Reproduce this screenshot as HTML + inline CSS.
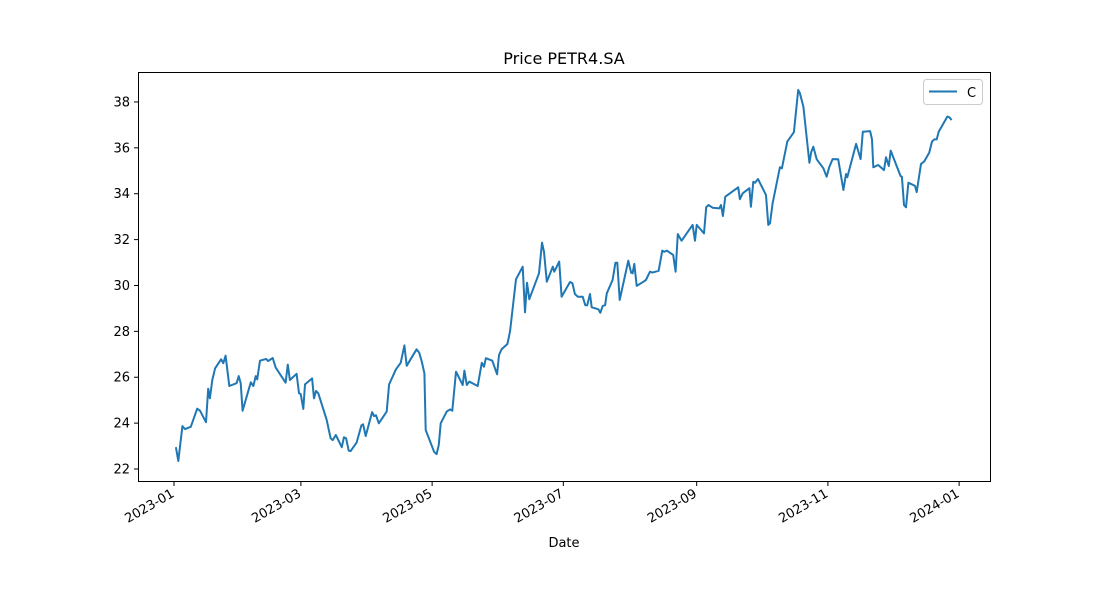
<!DOCTYPE html>
<html><head><meta charset="utf-8"><style>
body{margin:0;background:#fff;}
svg{display:block;font-family:"DejaVu Sans","Liberation Sans",sans-serif;}
</style></head><body>
<svg id="chart" width="1100" height="600" viewBox="0 0 1100 600">
<rect x="0" y="0" width="1100" height="600" fill="#fff"/>
<text x="564" y="64" font-size="16" text-anchor="middle">Price PETR4.SA</text>
<text x="564" y="547" font-size="13" text-anchor="middle">Date</text>
<g id="yt"></g><g id="xt"></g>
<path id="line" fill="none" stroke="#1f77b4" stroke-width="2" stroke-linejoin="round"/>
<rect x="138.5" y="72.5" width="852" height="409" fill="none" stroke="#000" stroke-width="1"/>
<g>
<rect x="923.5" y="79.5" width="59" height="25" rx="3" fill="#fff" stroke="#ccc"/>
<line x1="929" y1="91.5" x2="957" y2="91.5" stroke="#1f77b4" stroke-width="2"/>
<text x="967" y="97" font-size="13">C</text>
</g>
</svg>
<script>
const days=[0.9,2.0,3.9,5.1,7.8,10.8,12.1,14.9,15.9,16.7,17.8,19.1,21.9,22.9,24.0,25.7,29.1,30.1,31.0,31.9,35.7,36.9,38.0,38.7,40.0,42.8,43.8,45.9,47.3,51.9,52.9,53.9,57.0,58.1,58.9,60.1,60.9,64.2,65.1,66.0,67.1,71.0,72.8,73.8,75.2,78.0,79.0,80.0,81.2,82.1,84.9,87.1,87.9,89.1,92.1,93.0,93.9,95.2,98.9,100.0,103.2,105.4,107.1,108.2,112.8,114.0,115.2,116.4,117.0,120.9,122.1,123.1,124.0,126.8,128.3,129.4,131.1,134.2,135.0,136.1,137.3,141.2,143.1,144.1,145.0,148.0,150.2,151.1,152.3,155.0,156.2,159.0,162.1,163.2,164.1,165.2,169.7,171.1,172.0,173.3,176.1,176.8,179.1,180.2,184.1,185.2,186.4,187.7,190.0,191.2,192.1,193.4,194.2,197.3,198.2,199.3,200.4,201.2,203.9,205.2,206.1,207.2,211.2,212.5,213.2,214.0,215.1,218.2,219.4,221.3,222.4,225.3,227.0,227.9,229.1,232.1,233.2,234.2,236.0,241.1,242.2,243.0,246.4,247.4,248.5,250.4,253.5,254.3,255.2,256.3,262.3,263.1,264.4,267.5,268.2,269.3,270.1,271.5,275.2,276.3,277.1,278.3,281.7,282.6,285.1,288.2,290.2,291.0,292.6,295.4,296.3,297.2,298.8,301.9,303.4,304.6,306.2,308.8,311.2,312.4,313.0,317.1,319.2,320.2,323.6,324.5,325.1,327.4,330.1,331.0,332.3,333.2,337.8,338.4,339.4,340.3,341.4,344.5,345.3,347.3,348.7,351.1,352.4,353.4,354.6,355.5,359.5,360.5,361.5];
const prices=[22.95,22.35,23.87,23.74,23.84,24.63,24.54,24.04,25.50,25.08,25.88,26.39,26.78,26.61,26.94,25.62,25.74,26.05,25.74,24.54,25.78,25.62,26.05,25.91,26.72,26.80,26.71,26.84,26.42,25.76,26.55,25.88,26.15,25.30,25.27,24.62,25.69,25.95,25.08,25.40,25.30,24.14,23.34,23.26,23.48,22.95,23.38,23.34,22.80,22.78,23.15,23.90,23.95,23.44,24.48,24.31,24.34,23.99,24.50,25.69,26.35,26.63,27.39,26.50,27.22,27.07,26.68,26.17,23.70,22.75,22.65,23.05,23.99,24.50,24.60,24.54,26.24,25.66,26.29,25.66,25.81,25.62,26.63,26.46,26.83,26.72,26.13,26.97,27.22,27.45,27.99,30.27,30.82,28.83,30.12,29.40,30.53,31.87,31.47,30.16,30.82,30.60,31.04,29.51,30.15,30.10,29.63,29.51,29.51,29.14,29.14,29.63,29.05,28.96,28.81,29.11,29.14,29.66,30.24,30.99,30.99,29.37,31.08,30.56,30.53,30.94,29.98,30.16,30.24,30.60,30.56,30.64,31.52,31.47,31.52,31.33,30.60,32.24,31.95,32.64,31.95,32.64,32.27,33.41,33.51,33.39,33.36,33.51,33.03,33.87,34.28,33.76,34.02,34.24,33.43,34.52,34.48,34.64,33.94,32.64,32.71,33.58,35.15,35.11,36.27,36.68,38.52,38.38,37.79,35.35,35.83,36.05,35.50,35.11,34.74,35.15,35.51,35.50,34.16,34.86,34.72,36.17,35.51,36.70,36.73,36.37,35.15,35.25,35.03,35.59,35.21,35.88,34.77,34.74,33.51,33.41,34.48,34.34,34.07,35.30,35.40,35.79,36.27,36.37,36.37,36.70,37.36,37.33,37.21];
const yTicks=[22,24,26,28,30,32,34,36,38];
const xTickDays=[0,59,120,181,243,304,365];
const xTickLabels=["2023-01","2023-03","2023-05","2023-07","2023-09","2023-11","2024-01"];
const NS="http://www.w3.org/2000/svg";
function xs(d){return 174+d*2.151;}
function ys(v){return 469-(v-22)*22.94;}
const yt=document.getElementById('yt'), xt=document.getElementById('xt');
yTicks.forEach(v=>{
  const y=ys(v);
  const l=document.createElementNS(NS,'line');
  l.setAttribute('x1',134);l.setAttribute('x2',138.5);l.setAttribute('y1',y);l.setAttribute('y2',y);l.setAttribute('stroke','#000');
  
  
  yt.appendChild(l);
  const t=document.createElementNS(NS,'text');
  t.setAttribute('x',130);t.setAttribute('y',y+4.5);t.setAttribute('font-size','13');t.setAttribute('text-anchor','end');
  t.textContent=v;
  
  
  yt.appendChild(t);
});
xTickDays.forEach((d,i)=>{
  const x=xs(d);
  const l=document.createElementNS(NS,'line');
  l.setAttribute('x1',x);l.setAttribute('x2',x);l.setAttribute('y1',481.5);l.setAttribute('y2',486);l.setAttribute('stroke','#000');
  
  
  xt.appendChild(l);
  const t=document.createElementNS(NS,'text');
  t.setAttribute('x',x+1);t.setAttribute('y',496);t.setAttribute('font-size','13');t.setAttribute('text-anchor','end');
  t.setAttribute('transform','rotate(-30 '+(x+1)+' 496)');
  t.textContent=xTickLabels[i];
  
  
  xt.appendChild(t);
});
document.getElementById('line').setAttribute('d',days.map((d,i)=>(i?'L':'M')+xs(d).toFixed(1)+' '+ys(prices[i]).toFixed(1)).join(' '));
</script>
</body></html>
